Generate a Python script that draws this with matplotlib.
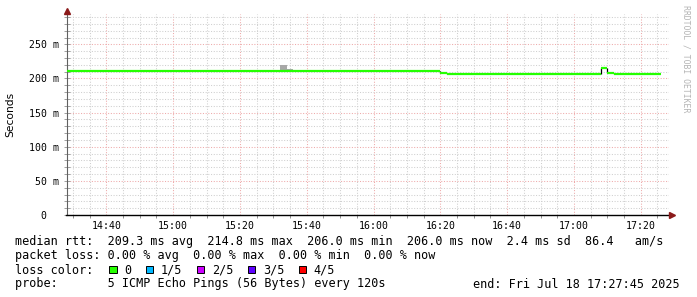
import matplotlib
matplotlib.use("Agg")
import matplotlib.pyplot as plt
import matplotlib.dates as mdates
from matplotlib.ticker import MultipleLocator, FixedLocator
from matplotlib.patches import Rectangle
from datetime import datetime

W, H = 697, 297
MONO = "DejaVu Sans Mono"
DAY = "2025-07-18 "

# median rtt (seconds) as 2-minute steps: start of each step
step_start = ["14:28", "16:20", "16:22", "17:08", "17:10", "17:12"]
step_end = "17:26"
median_rtt = [0.2110, 0.2078, 0.2060, 0.2148, 0.2083, 0.2060]

# smoke (ping spread) around the median
smoke_start = ["15:32", "15:34"]
smoke_end = "15:36"
smoke_low = [0.2110, 0.2110]
smoke_high = [0.2205, 0.2135]

x_start = "14:28:05"
x_stop = "17:28:28"
y_top = 0.2945
y_ticks = [0, 0.05, 0.10, 0.15, 0.20, 0.25]
y_labels = ["0  ", "50 m", "100 m", "150 m", "200 m", "250 m"]

loss_labels = ["0", "1/5", "2/5", "3/5", "4/5"]
loss_colors = ["#26ff00", "#00b8ff", "#cc00ff", "#5e00ff", "#ff0000"]

stats_lines = [
    "median rtt:  209.3 ms avg  214.8 ms max  206.0 ms min  206.0 ms now  2.4 ms sd  86.4   am/s",
    "packet loss: 0.00 % avg  0.00 % max  0.00 % min  0.00 % now",
    "loss color:",
    "probe:       5 ICMP Echo Pings (56 Bytes) every 120s",
]
end_text = "end: Fri Jul 18 17:27:45 2025"


def t(s):
    fmt = "%Y-%m-%d %H:%M:%S" if s.count(":") == 2 else "%Y-%m-%d %H:%M"
    return mdates.date2num(datetime.strptime(DAY + s, fmt))


def px(x, y):
    return x / W, 1 - y / H


fig = plt.figure(figsize=(W / 100, H / 100), dpi=100)
fig.patch.set_facecolor("white")

# plot area in pixel terms
left, right, top, bottom = 66.5, 669, 14, 215
ax = fig.add_axes([left / W, 1 - bottom / H, (right - left) / W, (bottom - top) / H])
ax.set_facecolor("white")

# smoke
for i in range(len(smoke_start)):
    t1 = smoke_start[i + 1] if i + 1 < len(smoke_start) else smoke_end
    ax.fill_between([t(smoke_start[i]), t(t1)], [smoke_low[i]] * 2, [smoke_high[i]] * 2,
                    color="#a8a8a8", linewidth=0, zorder=3)

# median line: black step edges, green levels
for i in range(len(step_start)):
    t0 = t(step_start[i])
    t1 = t(step_start[i + 1]) if i + 1 < len(step_start) else t(step_end)
    if i > 0:
        ax.vlines(t0, median_rtt[i - 1], median_rtt[i], color="black", linewidth=0.9, zorder=4)
    ax.hlines(median_rtt[i], t0, t1, color=loss_colors[0], linewidth=1.6, zorder=5)

ax.set_xlim(t(x_start), t(x_stop))
ax.set_ylim(0, y_top)

# grid
ax.xaxis.set_major_locator(mdates.MinuteLocator(byminute=[0, 20, 40]))
ax.xaxis.set_minor_locator(mdates.MinuteLocator(byminute=range(0, 60, 5)))
ax.xaxis.set_major_formatter(mdates.DateFormatter("%H:%M"))
ax.yaxis.set_major_locator(FixedLocator(y_ticks))
ax.yaxis.set_minor_locator(MultipleLocator(0.01))
ax.set_yticklabels(y_labels)

ax.grid(which="minor", color="#cfcfcf", linestyle=(0, (1, 1.6)), linewidth=0.75)
ax.grid(which="major", color="#eeaaaa", linestyle=(0, (1, 1.6)), linewidth=0.75)
ax.set_axisbelow(True)

for s in ["top", "right"]:
    ax.spines[s].set_visible(False)
ax.spines["left"].set_color("#606060")
ax.spines["left"].set_linewidth(0.8)
ax.spines["bottom"].set_color("black")
ax.spines["bottom"].set_linewidth(1.0)

ax.tick_params(axis="x", which="major", length=0, pad=4.3, labelsize=7.1, labelcolor="black")
ax.tick_params(axis="x", which="minor", length=2, direction="out", color="#909090", width=0.7)
ax.tick_params(axis="y", which="both", length=4, direction="inout", color="#a0a0a0", width=0.7,
               pad=3.2, labelsize=7.1)
for lab in ax.get_xticklabels() + ax.get_yticklabels():
    lab.set_family(MONO)

# axis arrows
ax.plot([0], [1.017], marker="^", color="#8b1a1a", markersize=4.5, transform=ax.transAxes,
        clip_on=False, zorder=6)
ax.plot([1.005], [0], marker=">", color="#8b1a1a", markersize=4.5, transform=ax.transAxes,
        clip_on=False, zorder=6)

# y label
fig.text(*px(10.5, 114.5), "Seconds", rotation=90, ha="center", va="center", fontsize=7.7,
         family="DejaVu Sans")

# watermark
fig.text(*px(686, 5), "RRDTOOL / TOBI OETIKER", rotation=270, ha="center", va="top",
         fontsize=5.9, family=MONO, color="#b4b4b4")

# legend / stats block
x0, cw = 15, 7.1
baselines = [245.5, 259.5, 273.5, 287.5]
for line, yb in zip(stats_lines, baselines):
    fig.text(*px(x0, yb), line, ha="left", va="baseline", fontsize=8.5, family=MONO)
fig.text(*px(680, baselines[3]), end_text, ha="right", va="baseline", fontsize=8.5, family=MONO)

cursor = 109
for lab, col in zip(loss_labels, loss_colors):
    sx, sy = px(cursor, baselines[2] - 0.5)
    fig.patches.append(Rectangle((sx, sy), 7.5 / W, 7.5 / H, transform=fig.transFigure,
                                 facecolor=col, edgecolor="black", linewidth=0.7))
    fig.text(*px(cursor + 15, baselines[2]), lab, ha="left", va="baseline", fontsize=8.5, family=MONO)
    cursor = cursor + 15 + len(lab) * cw + 14.7

fig.savefig("out.png", dpi=100, facecolor="white")
